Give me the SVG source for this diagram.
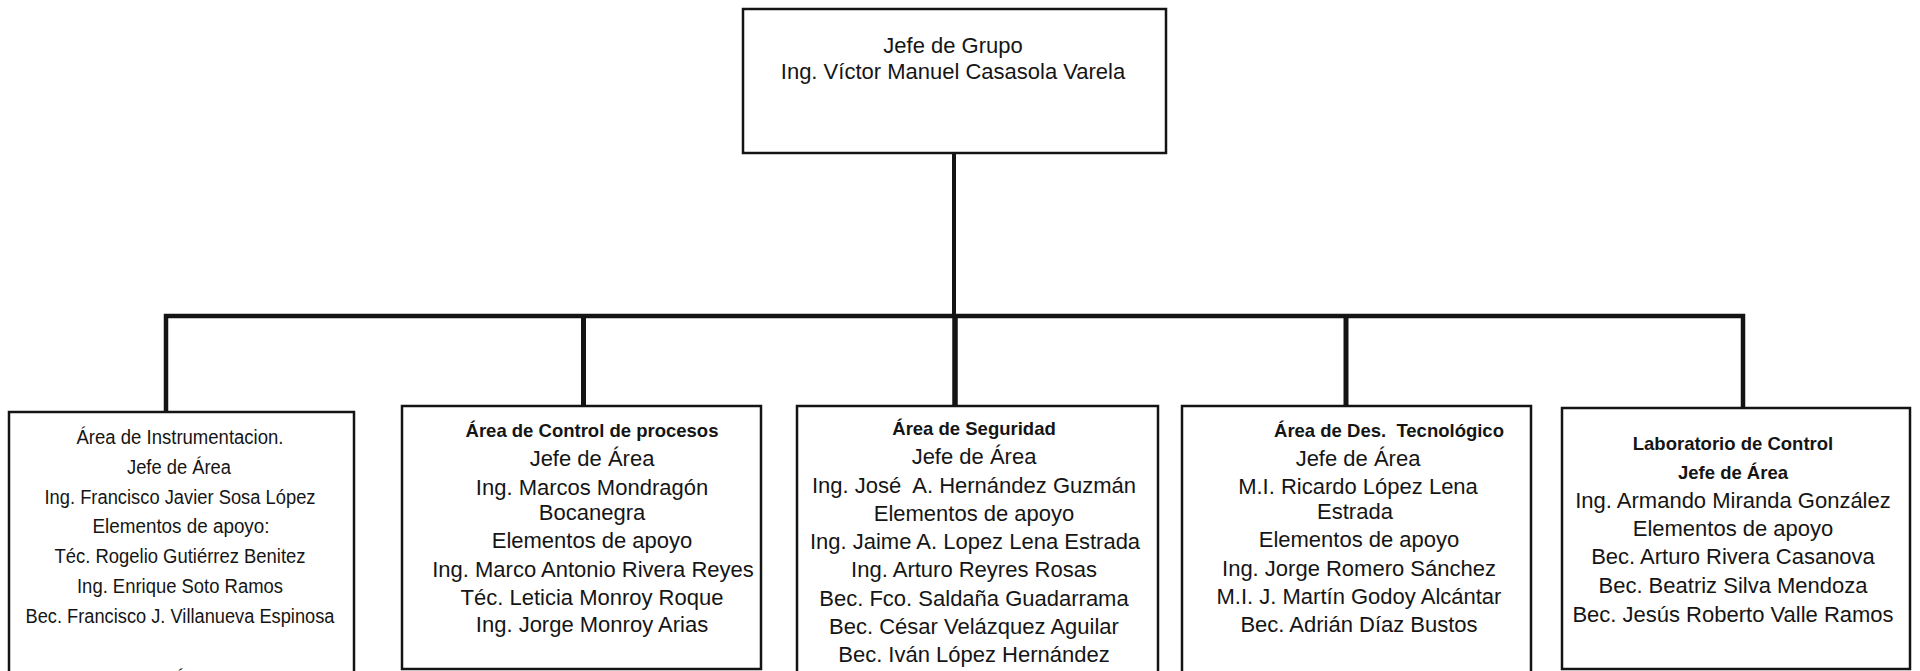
<svg xmlns="http://www.w3.org/2000/svg" width="1920" height="671" viewBox="0 0 1920 671">
  <style>
    .box { fill: #ffffff; stroke: #141414; stroke-width: 2.5; }
    .link { fill: none; stroke: #141414; stroke-linecap: butt; stroke-linejoin: miter; }
    text { font-family: "Liberation Sans", Arial, Helvetica, sans-serif; fill: #151515; text-anchor: middle; white-space: pre; }
    .r { font-size: 22px; }
    .h { font-size: 18.5px; font-weight: bold; }
    .n { font-size: 20px; }
  </style>

  <rect x="0" y="0" width="1920" height="671" fill="#ffffff"/>

  <!-- connectors -->
  <g id="connectors">
    <line class="link" x1="954" y1="152" x2="954" y2="316" stroke-width="4"/>
    <path class="link" d="M166 412 V316 H1743 V408" stroke-width="4.5"/>
    <line class="link" x1="583.5" y1="316" x2="583.5" y2="406" stroke-width="5"/>
    <line class="link" x1="955" y1="316" x2="955" y2="406" stroke-width="5.5"/>
    <line class="link" x1="1346" y1="316" x2="1346" y2="406" stroke-width="5"/>
  </g>

  <!-- group leader -->
  <g id="jefe-grupo">
    <rect class="box" x="743" y="9" width="423" height="144"/>
    <text class="r" x="953" y="53">Jefe de Grupo</text>
    <text class="r" x="953" y="79">Ing. Víctor Manuel Casasola Varela</text>
  </g>

  <!-- instrumentation area -->
  <g id="area-instrumentacion">
    <rect class="box" x="9" y="412" width="345" height="300"/>
    <text class="n" x="180" y="444" textLength="207" lengthAdjust="spacingAndGlyphs">Área de Instrumentacion.</text>
    <text class="n" x="179" y="474" textLength="104" lengthAdjust="spacingAndGlyphs">Jefe de Área</text>
    <text class="n" x="180" y="504" textLength="271" lengthAdjust="spacingAndGlyphs">Ing. Francisco Javier Sosa López</text>
    <text class="n" x="181" y="533" textLength="177" lengthAdjust="spacingAndGlyphs">Elementos de apoyo:</text>
    <text class="n" x="180" y="563" textLength="251" lengthAdjust="spacingAndGlyphs">Téc. Rogelio Gutiérrez Benitez</text>
    <text class="n" x="180" y="593" textLength="206" lengthAdjust="spacingAndGlyphs">Ing. Enrique Soto Ramos</text>
    <text class="n" x="180" y="623" textLength="309" lengthAdjust="spacingAndGlyphs">Bec. Francisco J. Villanueva Espinosa</text>
    <text class="n" x="180" y="686">Á</text>
  </g>

  <!-- process control area -->
  <g id="area-control-procesos">
    <rect class="box" x="402" y="406" width="359" height="263"/>
    <text class="h" x="592" y="437">Área de Control de procesos</text>
    <text class="r" x="592" y="466">Jefe de Área</text>
    <text class="r" x="592" y="495">Ing. Marcos Mondragón</text>
    <text class="r" x="592" y="520">Bocanegra</text>
    <text class="r" x="592" y="548">Elementos de apoyo</text>
    <text class="r" x="593" y="577">Ing. Marco Antonio Rivera Reyes</text>
    <text class="r" x="592" y="605">Téc. Leticia Monroy Roque</text>
    <text class="r" x="592" y="632">Ing. Jorge Monroy Arias</text>
  </g>

  <!-- safety area -->
  <g id="area-seguridad">
    <rect class="box" x="797" y="406" width="361" height="300"/>
    <text class="h" x="974" y="435">Área de Seguridad</text>
    <text class="r" x="974" y="464">Jefe de Área</text>
    <text class="r" x="974" y="493">Ing. José  A. Hernández Guzmán</text>
    <text class="r" x="974" y="521">Elementos de apoyo</text>
    <text class="r" x="975" y="549">Ing. Jaime A. Lopez Lena Estrada</text>
    <text class="r" x="974" y="577">Ing. Arturo Reyres Rosas</text>
    <text class="r" x="974" y="606">Bec. Fco. Saldaña Guadarrama</text>
    <text class="r" x="974" y="634">Bec. César Velázquez Aguilar</text>
    <text class="r" x="974" y="662">Bec. Iván López Hernández</text>
  </g>

  <!-- technology development area -->
  <g id="area-des-tecnologico">
    <rect class="box" x="1182" y="406" width="349" height="300"/>
    <text class="h" x="1389" y="437">Área de Des.  Tecnológico</text>
    <text class="r" x="1358" y="466">Jefe de Área</text>
    <text class="r" x="1358" y="494">M.I. Ricardo López Lena</text>
    <text class="r" x="1355" y="519">Estrada</text>
    <text class="r" x="1359" y="547">Elementos de apoyo</text>
    <text class="r" x="1359" y="576">Ing. Jorge Romero Sánchez</text>
    <text class="r" x="1359" y="604">M.I. J. Martín Godoy Alcántar</text>
    <text class="r" x="1359" y="632">Bec. Adrián Díaz Bustos</text>
  </g>

  <!-- control laboratory -->
  <g id="laboratorio-control">
    <rect class="box" x="1562" y="408" width="348" height="261"/>
    <text class="h" x="1733" y="450">Laboratorio de Control</text>
    <text class="h" x="1733" y="479">Jefe de Área</text>
    <text class="r" x="1733" y="508">Ing. Armando Miranda González</text>
    <text class="r" x="1733" y="536">Elementos de apoyo</text>
    <text class="r" x="1733" y="564">Bec. Arturo Rivera Casanova</text>
    <text class="r" x="1733" y="593">Bec. Beatriz Silva Mendoza</text>
    <text class="r" x="1733" y="622">Bec. Jesús Roberto Valle Ramos</text>
  </g>
</svg>
